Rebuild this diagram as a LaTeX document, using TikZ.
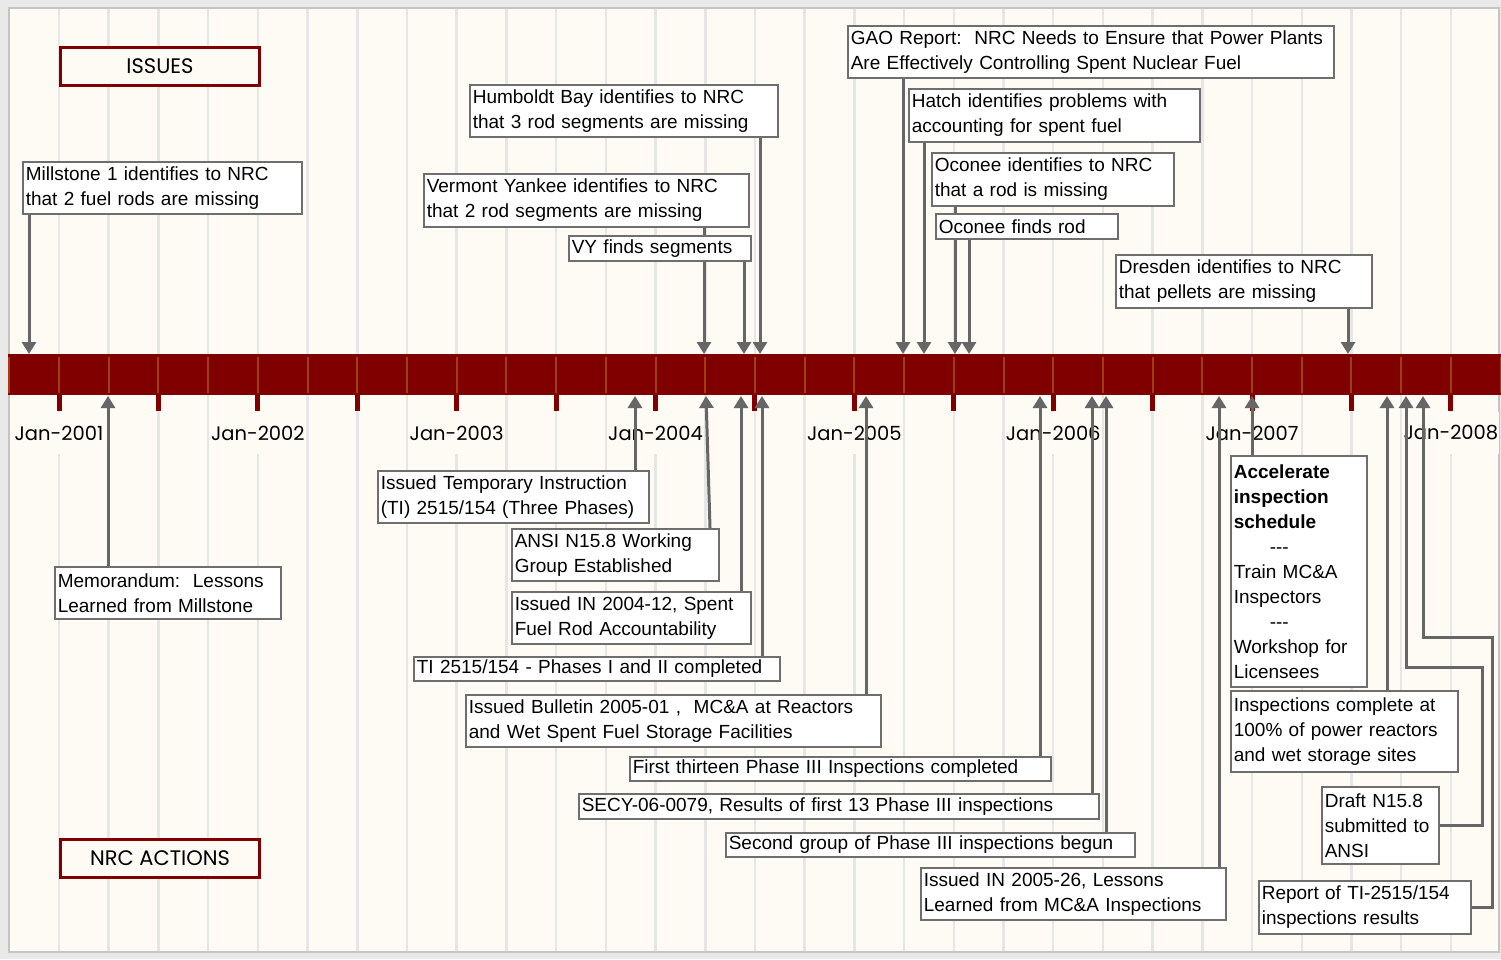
\documentclass[tikz,border=0pt]{standalone}
\usepackage{fontspec}
\newfontfamily\arialfont{Liberation Sans}
\newfontfamily\gothic{Poppins}
\usetikzlibrary{arrows.meta,calc}
\definecolor{outerbg}{HTML}{E9E9E9}
\definecolor{framec}{HTML}{C4C4C4}
\definecolor{cream}{HTML}{FDFBF4}
\definecolor{gridc}{HTML}{E6E6E6}
\definecolor{bandred}{HTML}{800000}
\definecolor{tickor}{HTML}{A0400C}
\definecolor{connc}{HTML}{666666}
\definecolor{boxgray}{HTML}{6E6E6E}
\pgfdeclarelayer{back}
\pgfdeclarelayer{mid}
\pgfsetlayers{back,mid,main}
\tikzset{
 gridline/.style={draw=gridc, line width=2.5pt},
 box/.style={draw=boxgray, line width=1.6pt, fill=white, inner xsep=3pt, inner ysep=0pt, align=left, anchor=north west, font=\arialfont\fontsize{19pt}{25pt}\selectfont\frenchspacing},
 headbox/.style={draw=bandred, line width=3pt, fill=cream, font=\gothic\fontsize{21pt}{25pt}\selectfont, minimum width=199pt, minimum height=38pt, anchor=north west, inner sep=0pt},
 yearlab/.style={fill=cream, font=\gothic\fontsize{19.5pt}{22pt}\selectfont, inner xsep=1pt, inner ysep=0pt, minimum height=42pt},
 connector/.style={draw=connc, line width=3pt, -{Triangle[width=14pt,length=12pt]}},
}
\begin{document}
\begin{tikzpicture}[x=1pt,y=-1pt]
\useasboundingbox (0,0) rectangle (1501,959);
\begin{pgfonlayer}{back}
\fill[outerbg] (0,0) rectangle (1501,959);
\fill[cream] (9,8) rectangle (1499,952);
\draw[framec, line width=2pt] (9,8) rectangle (1499,952);
\foreach \k in {1,...,29} \draw[gridline] ({9.3+49.71*\k},9) -- ({9.3+49.71*\k},951);
\fill[bandred] (8,354) rectangle (1501,395);
\foreach \k in {0,...,30} \draw[tickor, line width=2pt] ({9.3+49.71*\k},357) -- ({9.3+49.71*\k},393);
\foreach \k in {1,3,...,29} \draw[bandred, line width=5pt] ({9.3+49.71*\k},395) -- ({9.3+49.71*\k},411);
\foreach \yr [count=\i from 0] in {2001,...,2008}
  \node[yearlab] (jan\yr) at ({59+198.84*\i},433) {Jan-\yr};
\end{pgfonlayer}

% headers
\node[headbox] (issues) at (59,46) {ISSUES};
\node[headbox] (actions) at (59,838) {NRC ACTIONS};

% issue boxes (above the band)
\node[box, text width=273pt, minimum height=52pt] (mill) at (22,161) {Millstone 1 identifies to NRC\\that 2 fuel rods are missing};
\node[box, text width=302pt, minimum height=52pt] (humb) at (469,84) {Humboldt Bay identifies to NRC\\that 3 rod segments are missing};
\node[box, text width=319pt, minimum height=53pt] (vy) at (423,173) {Vermont Yankee identifies to NRC\\that 2 rod segments are missing};
\node[box, text width=176pt, minimum height=25pt] (vyf) at (568,235) {VY finds segments};
\node[box, text width=480pt, minimum height=52pt] (gao) at (847,25) {GAO Report:~ NRC Needs to Ensure that Power Plants\\Are Effectively Controlling Spent Nuclear Fuel};
\node[box, text width=285pt, minimum height=53pt] (hatch) at (908,88) {Hatch identifies problems with\\accounting for spent fuel};
\node[box, text width=236pt, minimum height=53pt] (ocid) at (931,152) {Oconee identifies to NRC\\that a rod is missing};
\node[box, text width=176pt, minimum height=25pt] (ocf) at (935,213) {Oconee finds rod};
\node[box, text width=250pt, minimum height=53pt] (dres) at (1115,254) {Dresden identifies to NRC\\that pellets are missing};

% action boxes (below the band)
\node[box, text width=220pt, minimum height=52pt] (memo) at (54,566) {Memorandum:~ Lessons\\Learned from Millstone};
\node[box, text width=265pt, minimum height=52pt] (ti) at (377,470) {Issued Temporary Instruction\\(TI) 2515/154 (Three Phases)};
\node[box, text width=201pt, minimum height=52pt] (ansi) at (511,528) {ANSI N15.8 Working\\Group Established};
\node[box, text width=233pt, minimum height=52pt] (inA) at (511,591) {Issued IN 2004-12, Spent\\Fuel Rod Accountability};
\node[box, text width=360pt, minimum height=24pt] (tiph) at (413,656) {TI 2515/154 - Phases I and II completed};
\node[box, text width=409pt, minimum height=52pt] (bull) at (465,694) {Issued Bulletin 2005-01 ,~ MC\&A at Reactors\\and Wet Spent Fuel Storage Facilities};
\node[box, text width=415pt, minimum height=24pt] (first) at (629,756) {First thirteen Phase III Inspections completed};
\node[box, text width=514pt, minimum height=25pt] (secy) at (578,793) {SECY-06-0079, Results of first 13 Phase III inspections};
\node[box, text width=403pt, minimum height=24pt] (second) at (725,832) {Second group of Phase III inspections begun};
\node[box, text width=299pt, minimum height=52pt] (inB) at (920,867) {Issued IN 2005-26, Lessons\\Learned from MC\&A Inspections};
\node[box, text width=130pt, minimum height=231pt] (accel) at (1230,455) {{\bfseries Accelerate\\inspection\\schedule}\\\hspace*{36pt}-{}-{}-\\Train MC\&A\\Inspectors\\\hspace*{36pt}-{}-{}-\\Workshop for\\Licensees};
\node[box, text width=221pt, minimum height=81pt] (insp) at (1230,690) {Inspections complete at\\100\% of power reactors\\and wet storage sites};
\node[box, text width=111pt, minimum height=77pt] (draft) at (1321,786) {Draft N15.8\\submitted to\\ANSI};
\node[box, text width=206pt, minimum height=53pt] (report) at (1258,880) {Report of TI-2515/154\\inspections results};

% arrow end points on the band
\coordinate (tMill) at (29,354);
\coordinate (tVy) at (704,354);
\coordinate (tVyf) at (744,354);
\coordinate (tHumb) at (760,354);
\coordinate (tGao) at (903,354);
\coordinate (tHatch) at (924,354);
\coordinate (tOcid) at (955,354);
\coordinate (tOcf) at (969,354);
\coordinate (tDres) at (1348,354);
\coordinate (bMemo) at (108,396);
\coordinate (bTi) at (635,396);
\coordinate (bAnsi) at (706,396);
\coordinate (kAnsi) at (710,528);
\coordinate (bInA) at (741,396);
\coordinate (bTiph) at (762,396);
\coordinate (bBull) at (866,396);
\coordinate (bFirst) at (1040,396);
\coordinate (bSecy) at (1092,396);
\coordinate (bSecond) at (1106,396);
\coordinate (bInB) at (1219,396);
\coordinate (bAccel) at (1252,396);
\coordinate (bInsp) at (1387,396);
\coordinate (bDraft) at (1406,396);
\coordinate (kDraft) at (1482,667);
\coordinate (bReport) at (1423,396);
\coordinate (kReport) at (1492,637);

\begin{pgfonlayer}{mid}
\draw[connector] (mill.south -| tMill) -- (tMill);
\draw[connector] (vy.south -| tVy) -- (tVy);
\draw[connector] (vyf.south -| tVyf) -- (tVyf);
\draw[connector] (humb.south -| tHumb) -- (tHumb);
\draw[connector] (gao.south -| tGao) -- (tGao);
\draw[connector] (hatch.south -| tHatch) -- (tHatch);
\draw[connector] (ocid.south -| tOcid) -- (tOcid);
\draw[connector] (ocf.south -| tOcf) -- (tOcf);
\draw[connector] (dres.south -| tDres) -- (tDres);
\draw[connector] (memo.north -| bMemo) -- (bMemo);
\draw[connector] (ti.north -| bTi) -- (bTi);
\draw[connector] (kAnsi) -- (bAnsi);
\draw[connector] (inA.north -| bInA) -- (bInA);
\draw[connector] (tiph.north -| bTiph) -- (bTiph);
\draw[connector] (bull.north -| bBull) -- (bBull);
\draw[connector] (first.north -| bFirst) -- (bFirst);
\draw[connector] (secy.north -| bSecy) -- (bSecy);
\draw[connector] (second.north -| bSecond) -- (bSecond);
\draw[connector] (inB.north -| bInB) -- (bInB);
\draw[connector] (accel.north -| bAccel) -- (bAccel);
\draw[connector] (insp.north -| bInsp) -- (bInsp);
\draw[connector] (draft.east) -| (kDraft) -| (bDraft);
\draw[connector] (report.east) -| (kReport) -| (bReport);
\end{pgfonlayer}
\end{tikzpicture}
\end{document}
